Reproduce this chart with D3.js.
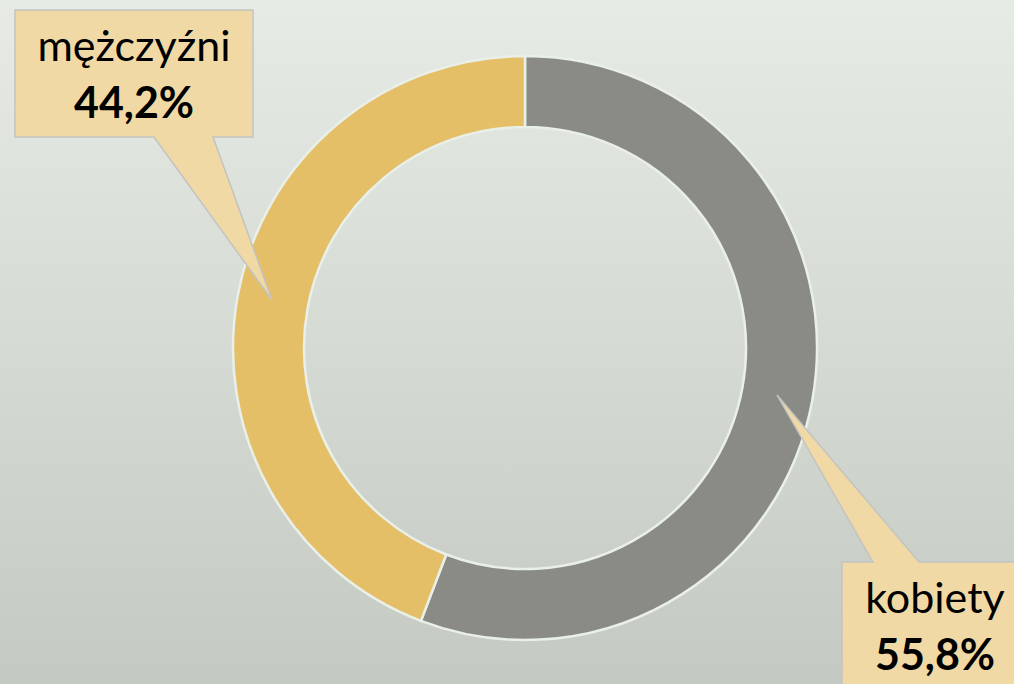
<!DOCTYPE html>
<html>
<head>
<meta charset="utf-8">
<script src="https://cdn.jsdelivr.net/npm/d3@7"></script>
<style>
  body { margin: 0; }
  svg { display: block; }
</style>
</head>
<body>
<div id="chart"></div>
<script>
// data
var categories = ["kobiety", "mężczyźni"];
var values = [55.8, 44.2];
var labels = ["55,8%", "44,2%"];
var colors = ["#8b8b85", "#e5bf68"];

var width = 1014, height = 684;
var cx = 525, cy = 348, outerR = 292, innerR = 221;

var svg = d3.select("#chart").append("svg")
    .attr("width", width)
    .attr("height", height);

// background gradient
var grad = svg.append("defs").append("linearGradient")
    .attr("id", "bg")
    .attr("x1", 0).attr("y1", 0).attr("x2", 0).attr("y2", 1);
grad.append("stop").attr("offset", "0%").attr("stop-color", "#e6ebe5");
grad.append("stop").attr("offset", "100%").attr("stop-color", "#c4c9c2");

svg.append("rect")
    .attr("width", width)
    .attr("height", height)
    .attr("fill", "url(#bg)");

// donut
var pie = d3.pie().sort(null).value(function(d) { return d; });
var arc = d3.arc().innerRadius(innerR).outerRadius(outerR);
var arcs = pie(values);

var g = svg.append("g")
    .attr("transform", "translate(" + cx + "," + cy + ")");

g.selectAll("path")
    .data(arcs)
    .enter().append("path")
    .attr("d", arc)
    .attr("fill", function(d, i) { return colors[i]; })
    .attr("stroke", "#e9f0e9")
    .attr("stroke-width", 2.5);

// callouts: box + pointer to the slice
var callouts = [
    {box: [842, 562, 190, 140], base: [873, 919], tip: [777, 395], mid: 935, y: 613, top: true},
    {box: [15, 10, 238, 127], base: [154, 213], tip: [272, 300], mid: 134, y: 61, top: false}
];

callouts.forEach(function(c, i) {
    var b = c.box;
    var pts;
    if (c.top) {
        pts = [[b[0], b[1]], [c.base[0], b[1]], c.tip, [c.base[1], b[1]],
               [b[0] + b[2], b[1]], [b[0] + b[2], b[1] + b[3]], [b[0], b[1] + b[3]]];
    } else {
        var by = b[1] + b[3];
        pts = [[b[0], b[1]], [b[0] + b[2], b[1]], [b[0] + b[2], by], [c.base[1], by],
               c.tip, [c.base[0], by], [b[0], by]];
    }
    svg.append("path")
        .attr("d", d3.line()(pts) + "Z")
        .attr("fill", "#f1d9a5")
        .attr("stroke", "#c3c3c0")
        .attr("stroke-width", 1.5);

    svg.append("text")
        .attr("x", c.mid).attr("y", c.y)
        .attr("text-anchor", "middle")
        .style("font-family", "Lato, 'Open Sans', sans-serif")
        .style("font-size", "43px")
        .style("fill", "#000")
        .text(categories[i]);
    svg.append("text")
        .attr("x", c.mid).attr("y", c.y + 57)
        .attr("text-anchor", "middle")
        .style("font-family", "Lato, 'Open Sans', sans-serif")
        .style("font-size", "43px")
        .style("font-weight", "bold")
        .style("fill", "#000")
        .text(labels[i]);
});
</script>
</body>
</html>
